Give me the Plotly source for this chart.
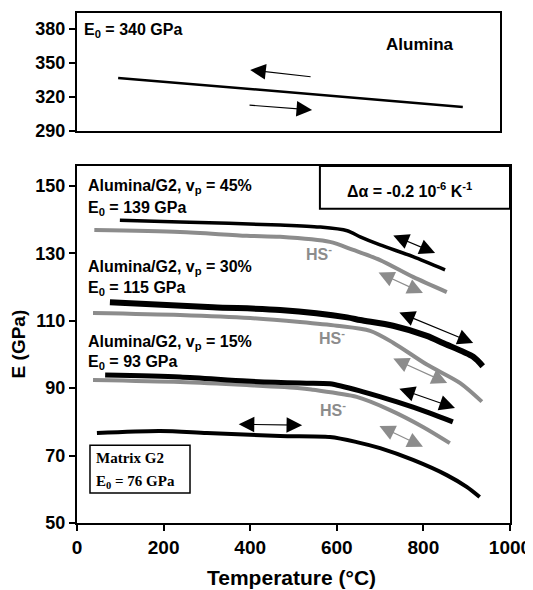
import plotly.graph_objects as go

# ---------------- data ----------------
alumina_T = [95, 891]
alumina_E = [336.8, 311.2]

s45_black_T = [99, 238, 469, 560, 624, 654, 700, 776, 850]
s45_black_E = [139.8, 139.3, 138.4, 137.8, 136.7, 134.9, 132.5, 129.0, 125.1]
s45_grey_T = [40, 238, 392, 469, 584, 638, 700, 776, 854]
s45_grey_E = [136.9, 136.3, 135.2, 134.9, 133.4, 131.0, 128.0, 123.0, 118.5]

s30_black_T = [76, 314, 469, 624, 654, 730, 808, 845, 915, 937]
s30_black_E = [115.5, 114.0, 113.2, 111.0, 110.2, 108.5, 105.5, 103.4, 99.3, 96.5]
s30_grey_T = [37, 238, 400, 515, 600, 677, 730, 808, 885, 935]
s30_grey_E = [112.3, 111.7, 110.8, 109.6, 108.5, 107.0, 103.5, 97.0, 91.5, 86.0]

s15_black_T = [65, 238, 392, 515, 584, 661, 739, 815, 868]
s15_black_E = [93.9, 93.3, 92.1, 91.5, 91.3, 88.9, 85.9, 82.6, 80.0]
s15_grey_T = [37, 238, 392, 515, 545, 646, 723, 799, 861]
s15_grey_E = [92.4, 91.8, 90.9, 90.0, 89.5, 87.4, 83.5, 78.5, 73.7]

matrix_T = [46, 192, 300, 469, 584, 646, 700, 776, 854, 900, 930]
matrix_E = [76.7, 77.3, 76.7, 75.8, 75.5, 74.0, 72.2, 68.7, 64.2, 60.7, 57.7]

x_ticks = [0, 200, 400, 600, 800, 1000]
y_ticks_bottom = [50, 70, 90, 110, 130, 150]
y_ticks_top = [290, 320, 350, 380]

# arrows: (tail T, tail E, head T, head E)
top_arrows = [
    (543, 337.7, 400, 343.8),
    (395, 312.9, 543, 308.5),
]
double_arrows = [
    (727, 135.5, 827, 130.1, "black"),
    (693, 124.5, 799, 118.2, "grey"),
    (741, 112.6, 915, 103.4, "black"),
    (727, 99.0, 855, 91.5, "grey"),
    (741, 90.0, 873, 84.1, "black"),
    (695, 79.0, 799, 72.6, "grey"),
    (370, 79.3, 520, 79.0, "black"),
]

BLACK = "#000000"
GREY = "#8c8c8c"
FONT = "Liberation Sans, Arial, sans-serif"
SERIF = "Liberation Serif, Times New Roman, serif"

fig = go.Figure()

fig.add_trace(go.Scatter(x=alumina_T, y=alumina_E, mode="lines",
                         line=dict(color=BLACK, width=2.5), xaxis="x2", yaxis="y2"))

series = [
    (s45_grey_T, s45_grey_E, GREY, 4),
    (s45_black_T, s45_black_E, BLACK, 3.5),
    (s30_grey_T, s30_grey_E, GREY, 4),
    (s30_black_T, s30_black_E, BLACK, 6),
    (s15_grey_T, s15_grey_E, GREY, 4),
    (s15_black_T, s15_black_E, BLACK, 5),
    (matrix_T, matrix_E, BLACK, 4),
]
for T, E, c, w in series:
    fig.add_trace(go.Scatter(x=T, y=E, mode="lines",
                             line=dict(color=c, width=w, shape="spline", smoothing=0.8),
                             xaxis="x", yaxis="y"))

ann = []
def txt(x, y, text, xref="x", yref="y", xanchor="left", size=16, color=BLACK,
        family=FONT, weight="bold", angle=0):
    ann.append(dict(x=x, y=y, xref=xref, yref=yref, text=text, showarrow=False,
                    xanchor=xanchor, yanchor="middle", textangle=angle,
                    font=dict(size=size, color=color, family=family, weight=weight)))

# top panel texts
txt(12, 379, "E<sub>0</sub> = 340 GPa", xref="x2", yref="y2", size=16)
txt(792, 366, "Alumina", xref="x2", yref="y2", xanchor="center", size=17)

# bottom panel texts
txt(21, 149.7, "Alumina/G2, v<sub>p</sub> = 45%")
txt(21, 143.2, "E<sub>0</sub> = 139 GPa")
txt(21, 125.7, "Alumina/G2, v<sub>p</sub> = 30%")
txt(21, 119.7, "E<sub>0</sub> = 115 GPa")
txt(21, 103.4, "Alumina/G2, v<sub>p</sub> = 15%")
txt(21, 97.5, "E<sub>0</sub> = 93 GPa")
txt(559, 130.1, "HS<sup>-</sup>", xanchor="center", color=GREY, size=16)
txt(589, 105.2, "HS<sup>-</sup>", xanchor="center", color=GREY, size=16)
txt(591, 83.8, "HS<sup>-</sup>", xanchor="center", color=GREY, size=16)
txt(769, 148.8, "Δα = -0.2 10<sup>-6</sup> K<sup>-1</sup>", xanchor="center", size=16)
txt(40, 69.3, "Matrix G2", family=SERIF, size=15)
txt(40, 62.2, "E<sub>0</sub> = 76 GPa", family=SERIF, size=15)

# axis titles
txt(-0.133, 0.351, "E (GPa)", xref="paper", yref="paper", xanchor="center", size=19, angle=-90)
txt(0.4965, -0.106, "Temperature (°C)", xref="paper", yref="paper", xanchor="center", size=21)

for (tx, ty, hx, hy) in top_arrows:
    ann.append(dict(x=hx, y=hy, ax=tx, ay=ty, xref="x2", yref="y2", axref="x2", ayref="y2",
                    showarrow=True, arrowhead=2, arrowsize=2.6, arrowwidth=1.2,
                    arrowcolor=BLACK, text=""))
for (tx, ty, hx, hy, c) in double_arrows:
    col = BLACK if c == "black" else GREY
    ann.append(dict(x=hx, y=hy, ax=tx, ay=ty, xref="x", yref="y", axref="x", ayref="y",
                    showarrow=True, arrowhead=2, startarrowhead=2, arrowside="end+start",
                    arrowsize=2.6, startarrowsize=2.6, arrowwidth=1.2,
                    arrowcolor=col, text=""))

shapes = [
    dict(type="rect", xref="x", yref="y", x0=561, x1=1000, y0=143.2, y1=155.9,
         line=dict(color=BLACK, width=2), fillcolor="rgba(0,0,0,0)"),
    dict(type="rect", xref="x", yref="y", x0=30, x1=261, y0=58.9, y1=73.1,
         line=dict(color=BLACK, width=1.5), fillcolor="rgba(0,0,0,0)"),
]

xtickfont = dict(size=19, family=FONT, color=BLACK, weight="bold")
ytickfont = dict(size=18, family=FONT, color=BLACK, weight="bold")

# the page body adds an 8px offset, so the figure is 8px smaller and margins shifted
fig.update_layout(
    width=525, height=582,
    margin=dict(l=69, r=23, t=5, b=67),
    paper_bgcolor="white", plot_bgcolor="white",
    showlegend=False,
    font=dict(family=FONT, color=BLACK),
    annotations=ann, shapes=shapes,
    xaxis=dict(domain=[0, 1], range=[0, 1000], tickvals=x_ticks, automargin=False,
               showline=True, linecolor=BLACK, linewidth=2, mirror=True,
               ticks="outside", ticklen=6, tickwidth=2, tickcolor=BLACK,
               showgrid=False, zeroline=False, tickfont=xtickfont),
    yaxis=dict(domain=[0, 0.70], range=[50, 155.9], tickvals=y_ticks_bottom, automargin=False,
               showline=True, linecolor=BLACK, linewidth=2, mirror=True,
               ticks="outside", ticklen=6, tickwidth=2, tickcolor=BLACK,
               showgrid=False, zeroline=False, tickfont=ytickfont),
    xaxis2=dict(domain=[0, 0.977], range=[0, 977], anchor="y2", automargin=False,
                showline=True, linecolor=BLACK, linewidth=2, mirror=True,
                showticklabels=False, ticks="", showgrid=False, zeroline=False),
    yaxis2=dict(domain=[0.7686, 1.0], range=[290, 394], tickvals=y_ticks_top, anchor="x2",
                automargin=False,
                showline=True, linecolor=BLACK, linewidth=2, mirror=True,
                ticks="outside", ticklen=6, tickwidth=2, tickcolor=BLACK,
                showgrid=False, zeroline=False, tickfont=ytickfont),
)

fig.write_html("out.html")
